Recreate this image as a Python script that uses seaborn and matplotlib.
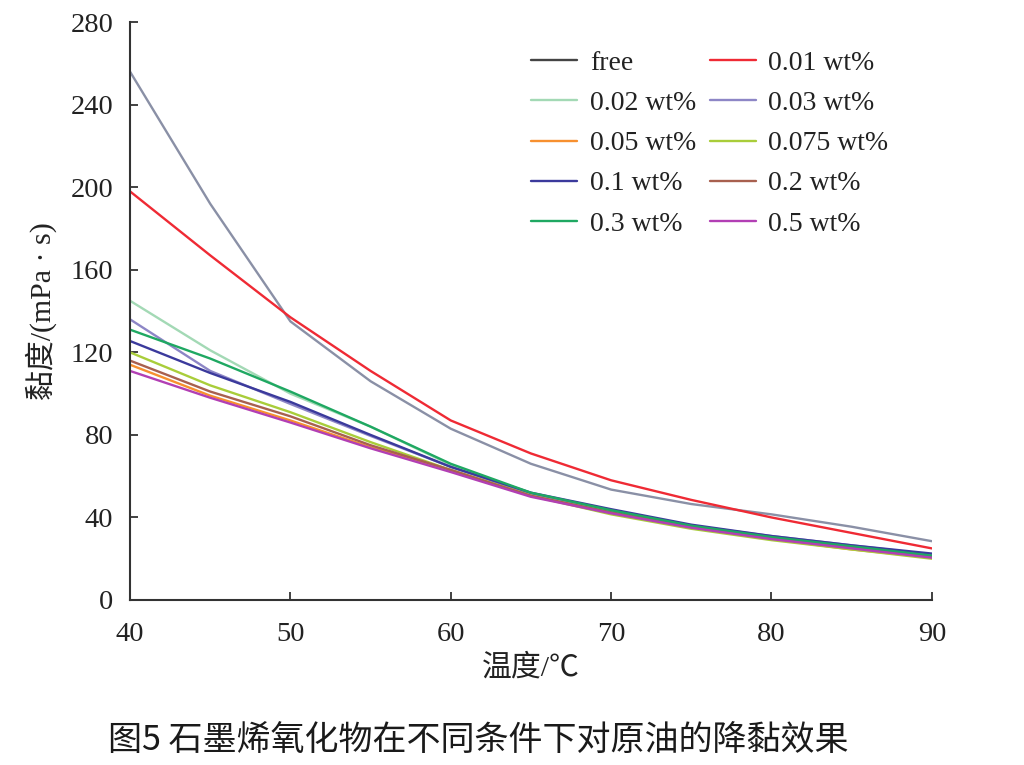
import numpy as np
import pandas as pd
import matplotlib
matplotlib.use("Agg")
import matplotlib.pyplot as plt
import seaborn as sns

sns.set_theme(style="ticks")
plt.rcParams["font.family"] = ["Liberation Serif", "Noto Sans CJK SC"]

# ---------------------------------------------------------------------------
# data (viscosity, mPa·s)
# ---------------------------------------------------------------------------
temps = [40, 45, 50, 55, 60, 65, 70, 75, 80, 85, 90]

free = [256, 192, 135, 106, 83, 66, 53.5, 46.5, 41.5, 35.5, 28.5]
wt_001 = [198, 167, 137, 111, 87, 71, 58, 48.5, 40, 32.5, 25]
wt_002 = [145, 121, 100, 84, 65.5, 50.5, 42.5, 35, 29.5, 25, 21]
wt_003 = [136, 111, 95, 79.5, 64.5, 51.5, 43.5, 36, 31, 26.5, 22]
wt_005 = [114, 99, 87, 74, 63, 50.5, 42, 35, 29.5, 24.5, 20.5]
wt_0075 = [120, 104, 91, 76.5, 63, 50.5, 41.5, 34.5, 29, 24.5, 20]
wt_01 = [125.5, 110, 96, 80, 64.5, 52, 44, 36.5, 31, 26.5, 22.5]
wt_02 = [116, 101, 89, 75, 63, 50.5, 42.5, 35.5, 30, 25.5, 21]
wt_03 = [131, 117, 101, 84, 66, 52, 43.5, 36, 30.5, 26, 21.5]
wt_05 = [111, 98, 86, 73.5, 62, 50, 42, 35, 29.5, 25, 20.5]

labels = ["free", "0.01 wt%", "0.02 wt%", "0.03 wt%", "0.05 wt%",
          "0.075 wt%", "0.1 wt%", "0.2 wt%", "0.3 wt%", "0.5 wt%"]
series = [free, wt_001, wt_002, wt_003, wt_005, wt_0075, wt_01, wt_02, wt_03, wt_05]
colors = ["#8a90a6", "#ef2a34", "#a3d9b5", "#8d86c6", "#f7902f",
          "#a9cd3a", "#3b3a9c", "#a8604f", "#1fa862", "#b23fb4"]

long_df = pd.concat(
    [pd.DataFrame({"temp": temps, "visc": s, "conc": lab}) for lab, s in zip(labels, series)],
    ignore_index=True,
)

# ---------------------------------------------------------------------------
# plot
# ---------------------------------------------------------------------------
fig = plt.figure(figsize=(10.24, 7.65), dpi=100)
ax = fig.add_axes([0.127, 0.2157, 0.783, 0.7553])

sns.lineplot(data=long_df, x="temp", y="visc", hue="conc", hue_order=labels,
             palette=dict(zip(labels, colors)), linewidth=1.7, ax=ax)

ax.set_xlim(40, 90)
ax.set_ylim(0, 280)
ax.set_xticks(range(40, 91, 10))
ax.set_yticks(range(0, 281, 40))
ax.tick_params(direction="in", length=6, width=1.3, labelsize=20.5, colors="#333333",
               labelcolor="#222222")
ax.tick_params(axis="x", pad=16)
ax.tick_params(axis="y", pad=12)
sns.despine(ax=ax)
for sp in ["left", "bottom"]:
    ax.spines[sp].set_color("#333333")
    ax.spines[sp].set_linewidth(1.5)

ax.set_xlabel("温度/℃", fontsize=21.5, color="#222222", labelpad=5)
ax.set_ylabel("黏度/(mPa · s)", fontsize=21.5, color="#222222", labelpad=10)

# legend row-wise: reorder for column-major filling
handles, labs = ax.get_legend_handles_labels()
order = [0, 2, 4, 6, 8, 1, 3, 5, 7, 9]
leg = ax.legend([handles[i] for i in order], [labs[i] for i in order], ncol=2,
                loc="upper left", bbox_to_anchor=(0.519, 0.934),
                bbox_transform=fig.transFigure, frameon=False, fontsize=20,
                handlelength=1.65, handletextpad=0.45, columnspacing=0.5,
                labelspacing=0.53, borderpad=0, borderaxespad=0)
leg.legend_handles[0].set_color("#444444")
for t in leg.get_texts():
    t.set_color("#222222")

fig.text(0.105, 0.018, "图5 石墨烯氧化物在不同条件下对原油的降黏效果",
         family=["Noto Sans CJK SC", "DejaVu Sans"], fontsize=24.5, color="#1a1a1a")

fig.savefig("out.png", dpi=100)
